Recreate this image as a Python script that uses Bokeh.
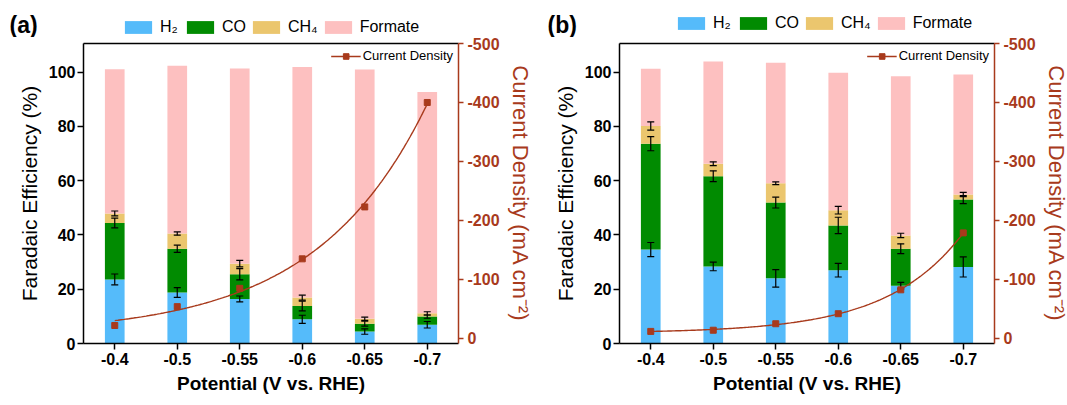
import numpy as np
from bokeh.plotting import figure
from bokeh.models import Range1d, LinearAxis, FixedTicker, Legend, LegendItem, Label, ColumnDataSource
from bokeh.layouts import row, column
from bokeh.embed import file_html
from bokeh.resources import INLINE

# ---------------- data ----------------
potentials = ["-0.4", "-0.5", "-0.55", "-0.6", "-0.65", "-0.7"]
fe_ticks = [0, 20, 40, 60, 80, 100]
j_ticks = [0, -100, -200, -300, -400, -500]
j_tick_labels = ["0", "-100", "-200", "-300", "-400", "-500"]
products = ["H\u2082", "CO", "CH\u2084", "Formate"]
panel_letters = ["(a)", "(b)"]

# panel (a)
a_h2 = [23.6, 18.8, 16.4, 8.9, 4.4, 6.9]
a_co = [20.8, 16.1, 9.1, 4.9, 2.9, 3.0]
a_ch4 = [3.5, 5.6, 3.9, 3.1, 1.8, 1.2]
a_formate = [53.1, 61.8, 71.9, 84.9, 91.8, 81.5]
a_h2_err = [2.0, 1.8, 1.1, 1.5, 1.0, 1.2]
a_co_err = [1.8, 1.3, 2.1, 1.8, 0.9, 0.6]
a_ch4_err = [0.9, 0.6, 1.2, 0.9, 0.6, 0.6]
a_current = [-22, -54, -85, -135, -223, -400]

# panel (b)
b_h2 = [34.6, 28.4, 24.0, 27.0, 21.3, 28.2]
b_co = [39.0, 33.2, 27.9, 16.5, 13.6, 24.8]
b_ch4 = [6.5, 4.6, 7.1, 5.6, 4.9, 1.9]
b_formate = [21.1, 37.7, 44.4, 50.6, 58.6, 44.2]
b_h2_err = [2.6, 1.6, 3.2, 2.5, 1.2, 3.7]
b_co_err = [2.6, 2.0, 2.0, 3.0, 1.8, 1.5]
b_ch4_err = [1.5, 0.7, 0.5, 1.4, 0.8, 0.8]
b_current = [-12, -14, -25, -42, -82.5, -179]

# ---------------- style ----------------
FONT = "Liberation Sans"
COLORS = ["#55BBFA", "#018B01", "#EBC66E", "#FDC0C0"]
RUST = "#A83A1C"
HEADER_H = 37


def exp_fit(xs, ys):
    xs = np.asarray(xs, float)
    ys = np.asarray(ys, float)
    best = None
    for b in np.linspace(0.05, 2.5, 600):
        A = np.column_stack([np.ones_like(xs), np.exp(b * xs)])
        coef, *_ = np.linalg.lstsq(A, ys, rcond=None)
        err = float(np.sum((A @ coef - ys) ** 2))
        if best is None or err < best[0]:
            best = (err, b, coef)
    _, b, coef = best
    xx = np.linspace(xs[0], xs[-1], 200)
    return xx, coef[0] + coef[1] * np.exp(b * xx)


def make_panel(h2, co, ch4, formate, h2_err, co_err, ch4_err, current, border_left):
    n = len(potentials)
    xs = np.arange(n)
    p = figure(frame_width=375, frame_height=300,
               min_border_left=border_left, min_border_right=75,
               min_border_top=43 - HEADER_H, min_border_bottom=62,
               x_range=Range1d(-0.5, n - 0.5), y_range=Range1d(0, 110.5),
               output_backend="svg", toolbar_location=None)
    p.extra_y_ranges = {"j": Range1d(start=8.5, end=-500)}
    p.xgrid.visible = False
    p.ygrid.visible = False
    p.outline_line_color = None

    h2 = np.array(h2); co = np.array(co); ch4 = np.array(ch4); formate = np.array(formate)
    t0 = h2
    t1 = t0 + co
    t2 = t1 + ch4
    t3 = t2 + formate
    bottoms = [np.zeros(n), t0, t1, t2]
    tops = [t0, t1, t2, t3]
    for bot, top, col in zip(bottoms, tops, COLORS):
        p.vbar(x=xs, bottom=bot, top=top, width=0.315, fill_color=col, line_color=None)

    # error bars
    for top, err in ((t0, h2_err), (t1, co_err), (t2, ch4_err)):
        err = np.array(err)
        lo = top - err
        hi = top + err
        p.segment(x0=xs, y0=lo, x1=xs, y1=hi, line_color="black", line_width=1.2)
        p.scatter(x=xs, y=lo, marker="dash", size=7, line_color="black", line_width=1.2)
        p.scatter(x=xs, y=hi, marker="dash", size=7, line_color="black", line_width=1.2)

    # current density
    xx, yy = exp_fit(xs, current)
    ln = p.line(x=xx, y=yy, line_color=RUST, line_width=1.4, y_range_name="j")
    sq = p.scatter(x=xs, y=current, marker="square", size=6, fill_color=RUST,
                   line_color=RUST, y_range_name="j")

    # bottom axis
    xa = p.xaxis[0]
    xa.ticker = FixedTicker(ticks=list(int(v) for v in xs))
    xa.major_label_overrides = {int(i): lab for i, lab in zip(xs, potentials)}
    xa.axis_label = "Potential (V vs. RHE)"
    xa.axis_label_text_font = FONT
    xa.axis_label_text_font_size = "19px"
    xa.axis_label_text_font_style = "bold"
    xa.axis_label_text_color = "black"
    xa.axis_label_standoff = 5
    xa.major_label_text_font = FONT
    xa.major_label_text_font_size = "16px"
    xa.major_label_text_font_style = "bold"
    xa.major_label_text_color = "black"
    xa.major_label_standoff = 3
    xa.major_tick_out = 6
    xa.major_tick_in = 0
    xa.minor_tick_line_color = None
    xa.axis_line_width = 1.5
    xa.major_tick_line_width = 1.5
    xa.axis_line_color = "black"

    # left axis
    ya = p.yaxis[0]
    ya.ticker = FixedTicker(ticks=fe_ticks)
    ya.axis_label = "Faradaic Efficiency (%)"
    ya.axis_label_text_font = FONT
    ya.axis_label_text_font_size = "21px"
    ya.axis_label_text_font_style = "normal"
    ya.axis_label_text_color = "black"
    ya.axis_label_standoff = 5
    ya.major_label_text_font = FONT
    ya.major_label_text_font_size = "16px"
    ya.major_label_text_font_style = "bold"
    ya.major_label_text_color = "black"
    ya.major_label_standoff = 2
    ya.major_tick_out = 6
    ya.major_tick_in = 0
    ya.minor_tick_line_color = None
    ya.axis_line_width = 1.5
    ya.major_tick_line_width = 1.5

    # right axis (current density)
    ra = LinearAxis(y_range_name="j", ticker=FixedTicker(ticks=j_ticks))
    ra.major_label_overrides = {int(t): lab for t, lab in zip(j_ticks, j_tick_labels)}
    ra.axis_label = "Current Density (mA cm\u207b\u00b2)"
    ra.axis_label_text_font = FONT
    ra.axis_label_text_font_size = "22px"
    ra.axis_label_text_font_style = "normal"
    ra.axis_label_text_color = RUST
    ra.axis_label_standoff = 5
    ra.major_label_text_font = FONT
    ra.major_label_text_font_size = "16px"
    ra.major_label_text_font_style = "bold"
    ra.major_label_text_color = RUST
    ra.major_label_standoff = 4
    ra.major_tick_out = 5
    ra.major_tick_in = 0
    ra.minor_tick_line_color = None
    ra.axis_line_color = RUST
    ra.major_tick_line_color = RUST
    ra.axis_line_width = 1.5
    ra.major_tick_line_width = 1.5
    p.add_layout(ra, "right")

    # top frame line
    ta = LinearAxis(ticker=FixedTicker(ticks=[]))
    ta.major_label_text_font_size = "0px"
    ta.major_label_standoff = 0
    ta.major_tick_out = 0
    ta.minor_tick_line_color = None
    ta.axis_line_width = 1.5
    ta.axis_line_color = "black"
    p.add_layout(ta, "above")

    # current density legend
    leg2 = Legend(items=[LegendItem(label="Current Density", renderers=[ln, sq])],
                  location="top_right", margin=5, padding=1,
                  glyph_width=30, glyph_height=14, label_height=14, label_standoff=2,
                  border_line_color=None, background_fill_alpha=0,
                  label_text_font=FONT, label_text_font_size="13px", label_text_color="black")
    p.add_layout(leg2, "center")
    return p


pa = make_panel(a_h2, a_co, a_ch4, a_formate, a_h2_err, a_co_err, a_ch4_err, a_current, 83)
pb = make_panel(b_h2, b_co, b_ch4, b_formate, b_h2_err, b_co_err, b_ch4_err, b_current, 84)

# ---------------- header strip: panel letters and product legends ----------------
hd = figure(width=1067, height=HEADER_H, min_border=0,
            x_range=Range1d(0, 1067), y_range=Range1d(0, HEADER_H),
            x_axis_location=None, y_axis_location=None,
            output_backend="svg", toolbar_location=None)
hd.outline_line_color = None
hd.grid.visible = False
# zero-size legend proxies (one degenerate row each, nothing visible)
proxy_src = ColumnDataSource(dict(x=[0], top=[0], bottom=[0]))
proxies = [hd.vbar(x="x", top="top", bottom="bottom", width=0, source=proxy_src,
                   fill_color=c, line_color=None) for c in COLORS]

for loc in [(121, 1), (674, 5)]:
    leg = Legend(items=[LegendItem(label=lab, renderers=[r]) for lab, r in zip(products, proxies)],
                 location=loc, orientation="horizontal",
                 glyph_width=34, glyph_height=16, label_height=16, label_standoff=5,
                 spacing=3, padding=0, margin=0, border_line_color=None,
                 background_fill_alpha=0, label_text_font=FONT, label_text_font_size="16px",
                 label_text_color="black")
    hd.add_layout(leg, "center")

for letter, lx in zip(panel_letters, [9, 547]):
    hd.add_layout(Label(x=lx, y=HEADER_H - 24, x_units="screen", y_units="screen", text=letter,
                        text_font=FONT, text_font_size="23px", text_font_style="bold",
                        text_align="left", text_baseline="middle", text_color="black"))

layout = column(hd, row(pa, pb))
open("out.html", "w").write(file_html(layout, INLINE))
